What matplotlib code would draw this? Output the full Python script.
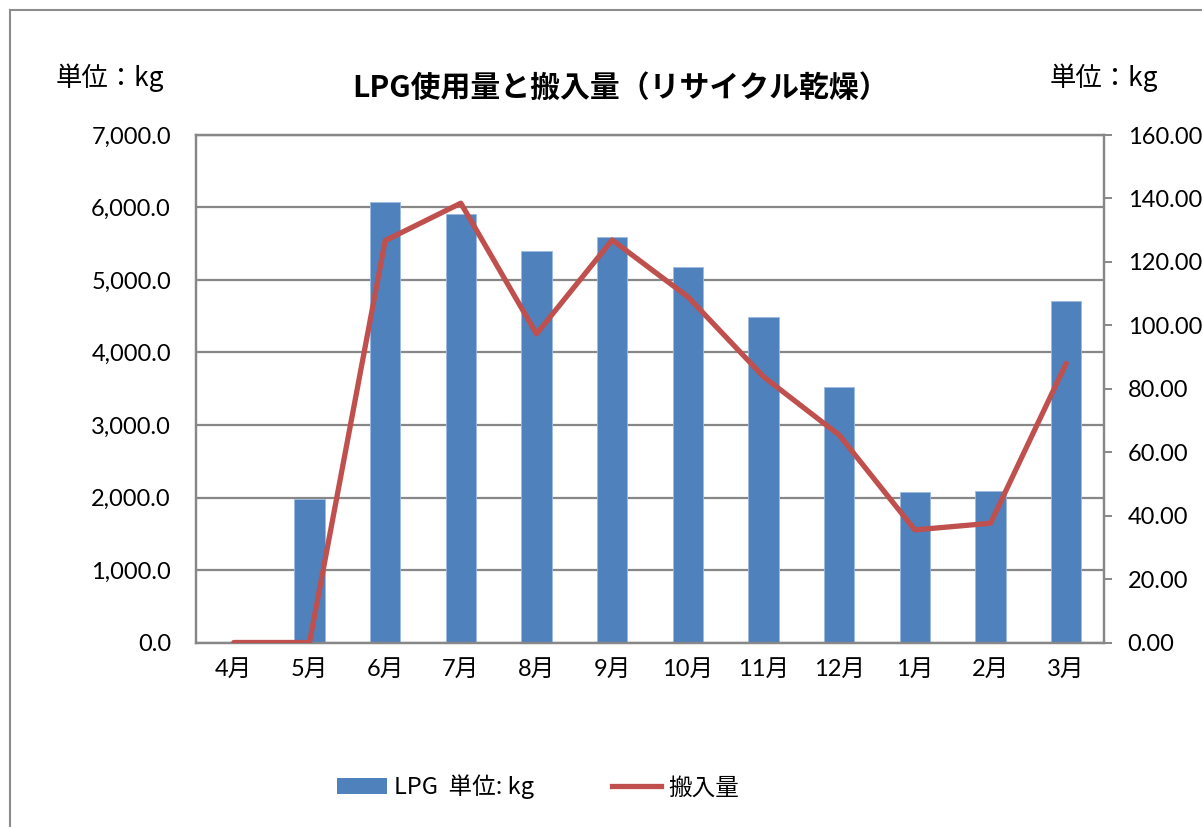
import matplotlib
matplotlib.use("Agg")
import matplotlib.pyplot as plt
from matplotlib.lines import Line2D
from matplotlib.patches import Patch
from matplotlib.ticker import FuncFormatter, MultipleLocator

months = ["4月", "5月", "6月", "7月", "8月", "9月", "10月", "11月", "12月", "1月", "2月", "3月"]
lpg_usage = [0, 1985, 6075, 5915, 5400, 5590, 5175, 4490, 3530, 2075, 2090, 4715]
delivery = [0, 0, 126.7, 138.5, 97.3, 126.9, 109.0, 83.8, 65.4, 35.5, 37.6, 88.0]

title_text = "LPG使用量と搬入量（リサイクル乾燥）"
unit_text = "単位：kg"
legend_bar = "LPG  単位: kg"
legend_line = "搬入量"

BAR_C = "#4F81BD"
LINE_C = "#C0504D"
GRID_C = "#878787"
CJK = "Noto Sans CJK JP"
NUM = ["Lato", CJK, "DejaVu Sans"]

W, H = 1202, 827
fig = plt.figure(figsize=(W / 100, H / 100), dpi=100)

# outer chart frame (top and left edges visible)
fig.add_artist(Line2D([10 / W, 10 / W], [0, 1 - 10 / H], color="#8c8c8c", lw=1.5, transform=fig.transFigure))
fig.add_artist(Line2D([10 / W, 1], [1 - 10 / H, 1 - 10 / H], color="#8c8c8c", lw=1.5, transform=fig.transFigure))

left, right, top, bottom = 196, 1104, 135, 642.5
ax1 = fig.add_axes([left / W, 1 - bottom / H, (right - left) / W, (bottom - top) / H])
x = list(range(len(months)))
ax1.bar(x, lpg_usage, width=0.4, color=BAR_C, edgecolor="#9dbbe0", linewidth=0.6, zorder=2)
ax1.set_xlim(-0.5, len(months) - 0.5)
ax1.set_ylim(0, 7000)
ax1.yaxis.set_major_locator(MultipleLocator(1000))
ax1.yaxis.set_major_formatter(FuncFormatter(lambda v, p: f"{v:,.1f}"))
ax1.grid(axis="y", color=GRID_C, lw=1.6, zorder=0)
ax1.set_axisbelow(True)
ax1.set_xticks(x)
ax1.set_xticklabels(months)
ax1.tick_params(axis="y", length=0, pad=18, labelsize=17)
ax1.tick_params(axis="x", length=0, pad=12, labelsize=17)
for lab in ax1.get_yticklabels() + ax1.get_xticklabels():
    lab.set_family(NUM)
for s in ax1.spines.values():
    s.set_color(GRID_C)
    s.set_linewidth(1.6)

ax2 = ax1.twinx()
ax2.plot(x, delivery, color=LINE_C, lw=3.8, solid_joinstyle="round", solid_capstyle="round", zorder=3)
ax2.set_ylim(0, 160)
ax2.yaxis.set_major_locator(MultipleLocator(20))
ax2.yaxis.set_major_formatter(FuncFormatter(lambda v, p: f"{v:.2f}"))
ax2.tick_params(axis="y", length=6, width=1.4, color=GRID_C, pad=11, labelsize=17)
for lab in ax2.get_yticklabels():
    lab.set_family(NUM)
for s in ax2.spines.values():
    s.set_color(GRID_C)
    s.set_linewidth(1.6)

fig.text(621 / W, 1 - 88 / H, title_text, ha="center", va="center", fontsize=21.5,
         fontweight="bold", family=[CJK, "DejaVu Sans"])
fig.text(110 / W, 1 - 78 / H, unit_text, ha="center", va="center", fontsize=19, family=[CJK, "DejaVu Sans"])
fig.text(1104 / W, 1 - 78 / H, unit_text, ha="center", va="center", fontsize=19, family=[CJK, "DejaVu Sans"])

handles = [Patch(facecolor=BAR_C, edgecolor="none"), Line2D([], [], color=LINE_C, lw=3.8)]
fig.legend(handles, [legend_bar, legend_line], loc="center", bbox_to_anchor=(538 / W, 1 - 787 / H),
           ncol=2, frameon=False, prop={"family": [CJK, "DejaVu Sans"], "size": 17},
           handlelength=2.1, handleheight=0.65, handletextpad=0.3, columnspacing=3.3)

fig.savefig("out.png", dpi=100)
